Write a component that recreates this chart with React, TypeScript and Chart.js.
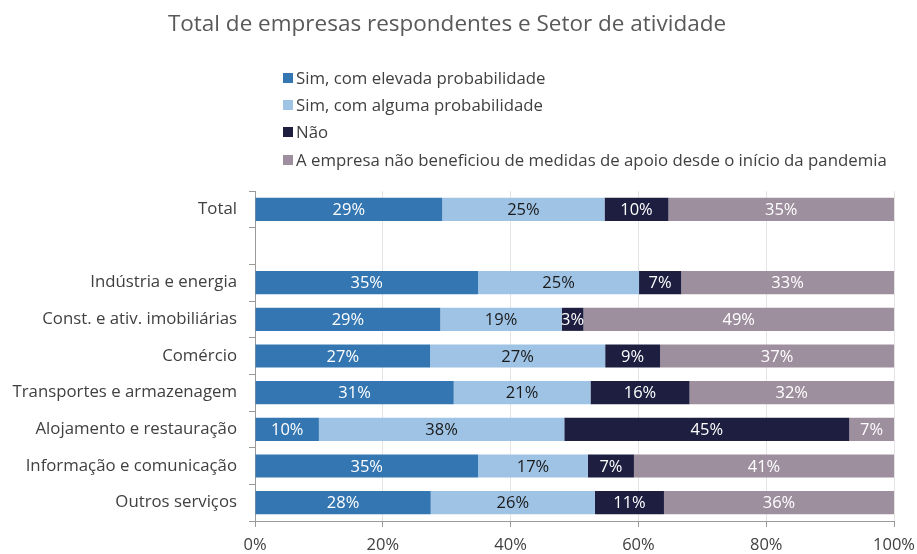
import React, { useEffect, useRef } from "react";
import { Chart, registerables } from "chart.js";

Chart.register(...registerables);

const categories = [
  "Total",
  "",
  "Indústria e energia",
  "Const. e ativ. imobiliárias",
  "Comércio",
  "Transportes e armazenagem",
  "Alojamento e restauração",
  "Informação e comunicação",
  "Outros serviços",
];

const seriesNames = [
  "Sim, com elevada probabilidade",
  "Sim, com alguma probabilidade",
  "Não",
  "A empresa não beneficiou de medidas de apoio desde o início da pandemia",
];

const elevada = [29.3, null, 34.9, 29.0, 27.4, 31.1, 10.0, 34.9, 27.5];
const alguma = [25.4, null, 25.2, 19.0, 27.4, 21.4, 38.4, 17.2, 25.7];
const nao = [10.0, null, 6.6, 3.4, 8.6, 15.5, 44.6, 7.2, 10.8];
const naoBeneficiou = [35.3, null, 33.3, 48.6, 36.6, 32.0, 7.0, 40.7, 36.0];

const seriesColors = ["#3476b2", "#9fc3e4", "#1d1e40", "#9e8f9e"];
const labelColors = ["#ffffff", "#1a1a1a", "#ffffff", "#ffffff"];
const xTicks = [0, 20, 40, 60, 80, 100];

const FONT = "'Open Sans', 'Noto Sans', sans-serif";

const valueLabels = {
  id: "valueLabels",
  afterDatasetsDraw(chart: any) {
    const ctx = chart.ctx;
    ctx.save();
    ctx.font = `16.5px ${FONT}`;
    ctx.textAlign = "center";
    ctx.textBaseline = "middle";
    chart.data.datasets.forEach((ds: any, di: number) => {
      const meta = chart.getDatasetMeta(di);
      meta.data.forEach((el: any, i: number) => {
        const v = ds.data[i];
        if (v == null) return;
        ctx.fillStyle = labelColors[di];
        ctx.fillText(Math.round(v) + "%", (el.x + el.base) / 2, el.y + 1);
      });
    });
    ctx.restore();
  },
};

const sideLegend = {
  id: "sideLegend",
  afterDraw(chart: any) {
    const ctx = chart.ctx;
    ctx.save();
    ctx.font = `16.8px ${FONT}`;
    ctx.textBaseline = "middle";
    const x0 = 283;
    const ys = [78, 105, 132, 160];
    chart.data.datasets.forEach((ds: any, i: number) => {
      ctx.fillStyle = ds.backgroundColor;
      ctx.fillRect(x0, ys[i] - 5, 10, 10);
      ctx.fillStyle = "#404040";
      ctx.fillText(ds.label, x0 + 13, ys[i] + 1);
    });
    ctx.restore();
  },
};

export default function App() {
  const ref = useRef<HTMLCanvasElement>(null);
  useEffect(() => {
    if (!ref.current) return;
    const data = [elevada, alguma, nao, naoBeneficiou];
    const chart = new Chart(ref.current, {
      type: "bar",
      data: {
        labels: categories,
        datasets: data.map((d, i) => ({
          label: seriesNames[i],
          data: d,
          backgroundColor: seriesColors[i],
          borderWidth: 0,
          barPercentage: 0.63,
          categoryPercentage: 1,
        })),
      },
      options: {
        indexAxis: "y",
        animation: false,
        responsive: false,
        layout: { padding: { top: 0, right: 23, bottom: 0, left: 0 } },
        plugins: {
          legend: { display: false },
          tooltip: { enabled: false },
          title: {
            display: true,
            text: "Total de empresas respondentes e Setor de atividade",
            color: "#595959",
            font: { family: FONT, size: 22.5, weight: "normal" },
            padding: { top: 11, bottom: 153 },
          },
        },
        scales: {
          x: {
            stacked: true,
            min: 0,
            max: 100,
            afterBuildTicks: (scale: any) => {
              scale.ticks = xTicks.map((v) => ({ value: v }));
            },
            ticks: {
              callback: (v: any) => v + "%",
              color: "#404040",
              font: { family: FONT, size: 16.5 },
              padding: 8,
              maxRotation: 0,
            },
            grid: {
              color: "#e4e4e4",
              tickColor: "#9a9a9a",
              tickLength: 6,
            },
            border: { color: "#9a9a9a" },
            afterFit: (scale: any) => {
              scale.height = 33;
              scale.paddingLeft = 0;
              scale.paddingRight = 0;
            },
          },
          y: {
            stacked: true,
            ticks: {
              color: "#404040",
              font: { family: FONT, size: 16.8 },
              padding: 12,
            },
            grid: {
              offset: true,
              drawOnChartArea: false,
              tickColor: "#9a9a9a",
              tickLength: 6,
            },
            border: { color: "#9a9a9a" },
            afterFit: (scale: any) => {
              scale.width = 255;
              scale.paddingTop = 0;
              scale.paddingBottom = 0;
            },
          },
        },
      },
      plugins: [valueLabels, sideLegend],
    });
    return () => chart.destroy();
  }, []);
  return (
    <div style={{ position: "fixed", left: 0, top: 0, width: 917, height: 554, background: "#fff" }}>
      <canvas ref={ref} width={917} height={554} />
    </div>
  );
}
